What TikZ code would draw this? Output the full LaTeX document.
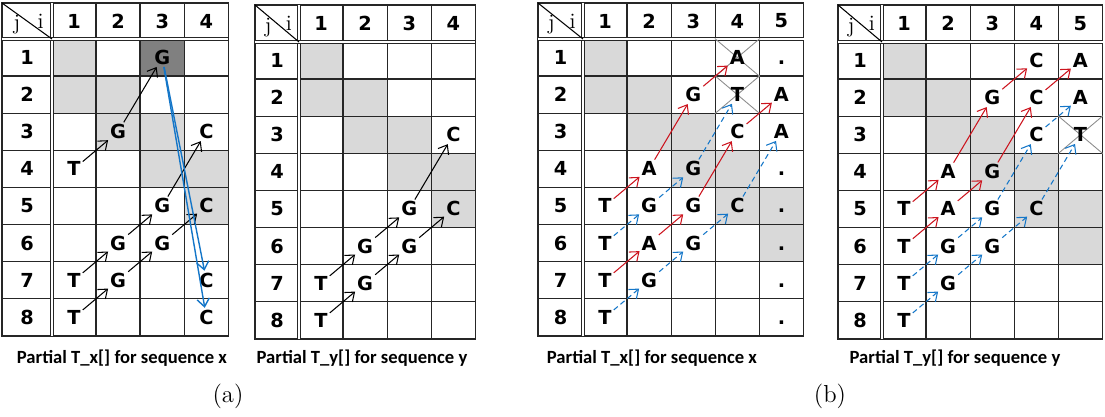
\documentclass[tikz,border=0pt]{standalone}
\usepackage{fontspec}
\newfontfamily\cellfont{DejaVu Sans}
\newfontfamily\capfont{Carlito}
\definecolor{cellgray}{RGB}{217,217,217}
\definecolor{darkcellgray}{RGB}{128,128,128}
\definecolor{arrowred}{RGB}{204,20,30}
\definecolor{arrowblue}{RGB}{20,118,200}
\usetikzlibrary{arrows.meta,shapes.misc}
\def\cellw{44.1}
\def\cellh{37.1}

\begin{document}
\begin{tikzpicture}[x=0.02cm, y=-0.02cm,
  gridln/.style={draw=black!85, line width=0.8pt},
  sepln/.style={draw=black!85, line width=0.6pt, double, double distance=0.9pt},
  shadecell/.style={rectangle, fill=cellgray, inner sep=0pt,
    minimum width=0.882cm, minimum height=0.742cm},
  darkcell/.style={shadecell, fill=darkcellgray},
  crosscell/.style={cross out, draw=black!45, line width=0.5pt, inner sep=0pt,
    minimum width=0.882cm, minimum height=0.742cm},
  seqlet/.style={font=\cellfont\bfseries\fontsize{11}{13}\selectfont, inner sep=1pt},
  headnum/.style={font=\cellfont\bfseries\fontsize{11}{13}\selectfont, inner sep=0pt},
  cornerlbl/.style={font=\rmfamily\fontsize{12.5}{14}\selectfont, inner sep=0pt},
  caplbl/.style={font=\capfont\bfseries\fontsize{10.6}{12}\selectfont},
  sublbl/.style={font=\rmfamily\fontsize{14}{16}\selectfont},
  blkarr/.style={-{Straight Barb[length=4.5pt,width=7pt]}, line width=0.6pt},
  redarr/.style={blkarr, draw=arrowred},
  bluarr/.style={blkarr, draw=arrowblue, dash pattern=on 3pt off 2pt},
  bluline/.style={blkarr, draw=arrowblue, line width=0.8pt}
]
\useasboundingbox (0,0) rectangle (1105,416);

% cell centres of the four tables
\foreach \p/\ox/\oy/\hw/\hh/\ncol in {tx/2/3/50/36/4, ty/255/5/44/37/4,
                                      bx/538/3/45/36/5, by/838/5/44/37/5}{
  \begin{scope}[shift={(\ox,\oy)}]
    \foreach \rr in {1,...,8}
      \foreach \cc in {1,...,\ncol}
        \coordinate (\p-\rr-\cc) at ({\hw+(\cc-0.5)*\cellw},{\hh+(\rr-0.5)*\cellh});
  \end{scope}
}

% shaded cells
\foreach \rr/\cc in {1/1,2/1,2/2,3/2,3/3,4/3,4/4,5/4}{
  \node[shadecell] (txs\rr\cc) at (tx-\rr-\cc) {};
  \node[shadecell] (tys\rr\cc) at (ty-\rr-\cc) {};
}
\node[darkcell] (txd13) at (tx-1-3) {};
\foreach \rr/\cc in {1/1,2/1,2/2,3/2,3/3,4/3,4/4,5/4,5/5,6/5}{
  \node[shadecell] (bxs\rr\cc) at (bx-\rr-\cc) {};
  \node[shadecell] (bys\rr\cc) at (by-\rr-\cc) {};
}

% grids, headers
\foreach \p/\ox/\oy/\hw/\hh/\ncol in {tx/2/3/50/36/4, ty/255/5/44/37/4,
                                      bx/538/3/45/36/5, by/838/5/44/37/5}{
  \begin{scope}[shift={(\ox,\oy)}]
    \draw[gridln] (0,0) rectangle ({\hw+\ncol*\cellw},{\hh+8*\cellh});
    \foreach \cc in {1,...,\ncol}
      \draw[gridln] ({\hw+\cc*\cellw},0) -- ++(0,{\hh+8*\cellh});
    \foreach \rr in {1,...,7}
      \draw[gridln] (0,{\hh+\rr*\cellh}) -- ++({\hw+\ncol*\cellw},0);
    \draw[sepln] (\hw,0) -- (\hw,{\hh+8*\cellh});
    \draw[sepln] (0,\hh) -- ({\hw+\ncol*\cellw},\hh);
    \draw[line width=0.6pt] (0,0) -- (\hw,\hh);
    \node[cornerlbl] (\p-j) at ({0.3*\hw},{0.6*\hh}) {j};
    \node[cornerlbl] (\p-i) at ({0.77*\hw},{0.5*\hh}) {i};
    \foreach \cc in {1,...,\ncol}
      \node[headnum] (\p-col\cc) at ({\hw+(\cc-0.5)*\cellw},{\hh/2}) {\cc};
    \foreach \rr in {1,...,8}
      \node[headnum] (\p-row\rr) at ({\hw/2},{\hh+(\rr-0.5)*\cellh}) {\rr};
  \end{scope}
}

% crossed cells
\node[crosscell] (bxx14) at (bx-1-4) {};
\node[crosscell] (bxx24) at (bx-2-4) {};
\node[crosscell] (byx35) at (by-3-5) {};

% letters
\foreach \rr/\cc/\ltr in {1/3/G,3/2/G,3/4/C,4/1/T,5/3/G,5/4/C,6/2/G,6/3/G,
                          7/1/T,7/2/G,7/4/C,8/1/T,8/4/C}
  \node[seqlet] (tx\rr\cc) at (tx-\rr-\cc) {\vphantom{A}\ltr};
\foreach \rr/\cc/\ltr in {3/4/C,5/3/G,5/4/C,6/2/G,6/3/G,7/1/T,7/2/G,8/1/T}
  \node[seqlet] (ty\rr\cc) at (ty-\rr-\cc) {\vphantom{A}\ltr};
\foreach \rr/\cc/\ltr in {1/4/A,1/5/.,2/3/G,2/4/T,2/5/A,3/4/C,3/5/A,4/2/A,4/3/G,
                          4/5/.,5/1/T,5/2/G,5/3/G,5/4/C,5/5/.,6/1/T,6/2/A,6/3/G,
                          6/5/.,7/1/T,7/2/G,7/5/.,8/1/T,8/5/.}
  \node[seqlet] (bx\rr\cc) at (bx-\rr-\cc) {\vphantom{A}\ltr};
\foreach \rr/\cc/\ltr in {1/4/C,1/5/A,2/3/G,2/4/C,2/5/A,3/4/C,3/5/T,4/2/A,4/3/G,
                          5/1/T,5/2/A,5/3/G,5/4/C,6/1/T,6/2/G,6/3/G,7/1/T,7/2/G,8/1/T}
  \node[seqlet] (by\rr\cc) at (by-\rr-\cc) {\vphantom{A}\ltr};

% arrows (a)
\foreach \src/\dst in {41/32,32/13,71/62,62/53,53/34,81/72,72/63,63/54}
  \draw[blkarr] (tx\src) -- (tx\dst);
\draw[bluline] (tx13) -- (tx74);
\draw[bluline] (tx13) -- (tx84);
\foreach \src/\dst in {71/62,62/53,53/34,81/72,72/63,63/54}
  \draw[blkarr] (ty\src) -- (ty\dst);

% arrows (b)
\foreach \src/\dst in {51/42,42/23,23/14,71/62,62/53,53/34,34/25}
  \draw[redarr] (bx\src) -- (bx\dst);
\foreach \src/\dst in {61/52,52/43,43/24,81/72,72/63,63/54,54/35}
  \draw[bluarr] (bx\src) -- (bx\dst);
\foreach \src/\dst in {51/42,42/23,23/14,61/52,52/43,43/24,24/15}
  \draw[redarr] (by\src) -- (by\dst);
\foreach \src/\dst in {71/62,62/53,53/34,34/25,81/72,72/63,63/54,54/35}
  \draw[bluarr] (by\src) -- (by\dst);

% captions
\node[caplbl] (cap-tx) at (122,358) {Partial T\_x[] for sequence x};
\node[caplbl] (cap-ty) at (362,358) {Partial T\_y[] for sequence y};
\node[caplbl] (cap-bx) at (652,358) {Partial T\_x[] for sequence x};
\node[caplbl] (cap-by) at (955,358) {Partial T\_y[] for sequence y};
\node[sublbl] (sub-a) at (228,396) {(a)};
\node[sublbl] (sub-b) at (830,396) {(b)};
\end{tikzpicture}
\end{document}
